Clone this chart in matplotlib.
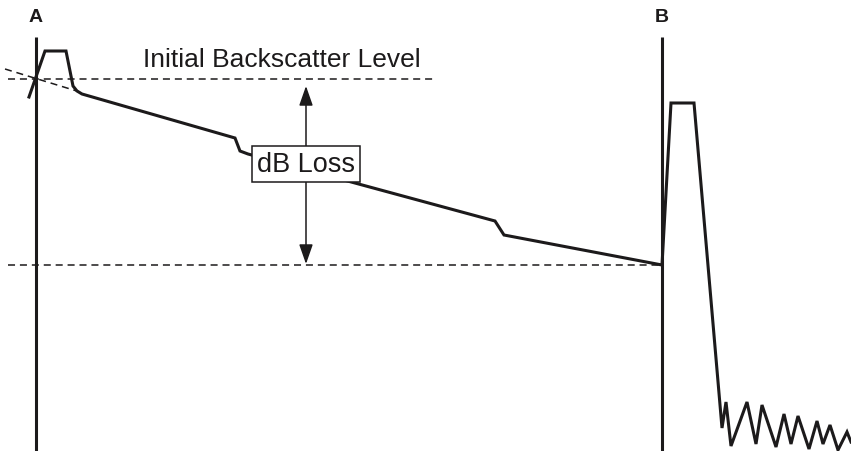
import matplotlib
matplotlib.use("Agg")
import matplotlib.pyplot as plt

plt.rcParams['font.family'] = ['Liberation Sans', 'DejaVu Sans']

ink = '#1c1a1b'

# OTDR trace, in picture units (distance to the right, loss downward)
trace_x = [29, 45, 66, 73, 77, 82, 235, 240, 248, 495, 504, 662, 671, 694,
           722, 726, 731, 747, 756, 762, 776, 784, 791, 798, 809, 817, 823,
           830, 838, 847, 851]
trace_y = [98, 52, 52, 87, 92, 95, 139, 152, 155, 222, 236, 266, 104, 104,
           429, 403, 447, 403, 445, 406, 448, 415, 445, 417, 450, 422, 445,
           426, 451, 433, 443]

# markers A and B
marker_x = [36, 662]
marker_labels = ['A', 'B']
marker_top = 38

# reference levels
initial_level = 80
end_level = 266
initial_line_end = 435
backscatter_extrap_x = [5, 80]
backscatter_extrap_y = [70, 93]

fig = plt.figure(figsize=(8.51, 4.52), dpi=100)
ax = fig.add_axes([0, 0, 1, 1])
ax.set_xlim(0, 851)
ax.set_ylim(452, 0)
ax.axis('off')

# dashed reference lines
ax.plot([8, initial_line_end], [initial_level, initial_level], color=ink,
        lw=1.1, dashes=(4.6, 3.2))
ax.plot([8, marker_x[1]], [end_level, end_level], color=ink,
        lw=1.1, dashes=(4.6, 3.2))
ax.plot(backscatter_extrap_x, backscatter_extrap_y, color=ink,
        lw=1.1, dashes=(4.6, 3.2))

# marker lines and labels
for mx, lab in zip(marker_x, marker_labels):
    ax.plot([mx, mx], [marker_top, 452], color=ink, lw=2.2,
            solid_capstyle='butt')
    ax.text(mx, 18, lab, ha='center', va='center', fontsize=14,
            fontweight='heavy', color=ink)

# the trace
ax.plot(trace_x, trace_y, color=ink, lw=2.2, solid_joinstyle='miter')

ax.text(282, 60, 'Initial Backscatter Level', ha='center', va='center',
        fontsize=19, color=ink)

# dB loss arrows and box
arrow_x = 306
mid_y = 165
for tip in (87, 265):
    ax.annotate('', xy=(arrow_x, tip), xytext=(arrow_x, mid_y),
                arrowprops=dict(arrowstyle='-|>,head_length=1.2,head_width=0.42',
                                color=ink, lw=1.1, shrinkA=0, shrinkB=0,
                                mutation_scale=10), zorder=3)
ax.text(arrow_x, mid_y, 'dB Loss', ha='center', va='center', fontsize=19.5,
        color=ink, zorder=5,
        bbox=dict(boxstyle='square,pad=0.2', fc='white', ec=ink, lw=1.1))

fig.savefig('out.png', dpi=100)
